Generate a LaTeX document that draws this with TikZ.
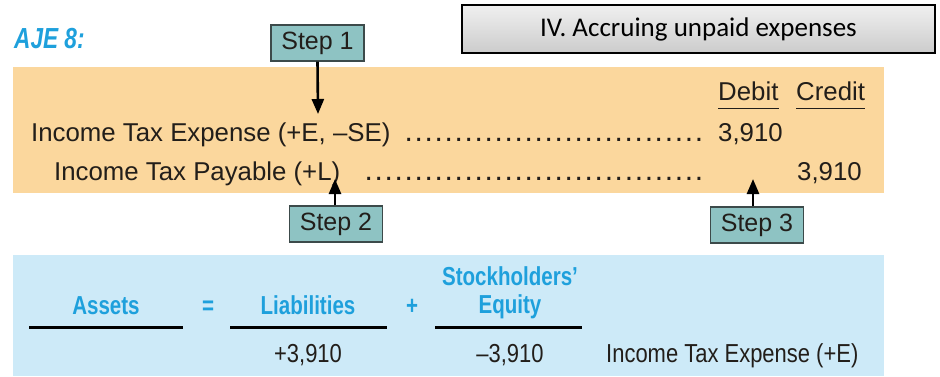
\documentclass[tikz,border=0pt]{standalone}
\usepackage{fontspec}
\setmainfont{Liberation Sans}
\newfontfamily\calfont{Carlito}
\newfontfamily\condfont[FakeStretch=0.845]{Liberation Sans}
\newfontfamily\condbold[FakeStretch=0.79]{Liberation Sans}
\newfontfamily\ajefont[FakeStretch=0.78]{Liberation Sans}
\usetikzlibrary{arrows.meta}
\definecolor{orangebg}{HTML}{FBD79D}
\definecolor{bluebg}{HTML}{CDEAF8}
\definecolor{stepfill}{HTML}{8EC3C3}
\definecolor{stepline}{HTML}{3C4A4A}
\definecolor{acctblue}{HTML}{1EA0DC}
\definecolor{inkdark}{HTML}{221E1A}
\newcommand{\leaderdots}[1]{\hbox to #1pt{\fontsize{30}{30}\selectfont\leaders\hbox to 10pt{\hss.\hss}\hfill}}

\begin{document}
\begin{tikzpicture}[x=1pt,y=-1pt]

		\useasboundingbox (0,0) rectangle (940,376);
		\tikzset{stepbox/.style={draw=stepline, fill=stepfill, line width=1.2pt, minimum width=93pt, minimum height=36pt, inner sep=0pt, text=inkdark, font=\fontsize{25}{30}\selectfont},
			steparrow/.style={line width=2.6pt, -{Triangle[width=12pt,length=15pt]}},
			entry/.style={anchor=base west, inner sep=0pt, text=inkdark, font=\fontsize{25.8}{30}\selectfont},
			acct/.style={anchor=base, inner sep=0pt, text=acctblue, font=\condbold\bfseries\fontsize{26}{30}\selectfont},
			amount/.style={anchor=base, inner sep=0pt, text=inkdark, font=\condfont\fontsize{26}{30}\selectfont},
			eqrule/.style={line width=3pt},
			ledgerrule/.style={line width=1.6pt, inkdark}}

		\fill[orangebg] (13,67) rectangle (884,193);
		\fill[bluebg] (13,255) rectangle (884,376);

		\node[draw, line width=1.2pt, top color=gray!12, bottom color=gray!40, minimum width=473pt, minimum height=48pt, font=\calfont\fontsize{27}{32}\selectfont] (title) at (698.5,29) {IV. Accruing unpaid expenses};
		\node[anchor=base west, inner sep=0pt, text=acctblue, font=\ajefont\bfseries\itshape\fontsize{29}{32}\selectfont] (aje) at (14,48) {AJE 8:};

		\node[stepbox] (step1) at (317.5,43) {Step 1};
		\node[stepbox] (step2) at (336,224) {Step 2};
		\node[stepbox] (step3) at (757,225) {Step 3};

		\node[entry] (debit) at (718,100) {Debit};
		\node[entry] (credit) at (796,100) {Credit};
		\draw[ledgerrule] ([yshift=-8pt]debit.south west) -- ([yshift=-8pt]debit.south east);
		\draw[ledgerrule] ([yshift=-8pt]credit.south west) -- ([yshift=-8pt]credit.south east);

		\node[entry] (expense) at (31,141) {Income Tax Expense (+E, –SE)};
		\node[entry] (payable) at (54,180) {Income Tax Payable (+L)};
		\node[entry, anchor=base east] (dots1) at (704,141) {\leaderdots{300}};
		\node[entry, anchor=base east] (dots2) at (704,180) {\leaderdots{340}};
		\node[entry] (dr) at (718,141) {3,910};
		\node[entry] (cr) at (797,180) {3,910};

		\coordinate (tip1) at (318,114);
		\coordinate (tip2) at (335,179);
		\coordinate (tip3) at (753,179);
		\draw[steparrow] (step1.south) -- (tip1);
		\draw[steparrow] (step2.north -| tip2) -- (tip2);
		\draw[steparrow] (step3.north -| tip3) -- (tip3);

		\node[acct] (assets) at (106,314) {Assets};
		\node[acct] (eq) at (208,314) {=};
		\node[acct] (liab) at (308,314) {Liabilities};
		\node[acct] (plus) at (412,314) {+};
		\node[acct] (stock) at (510,285) {Stockholders’};
		\node[acct] (equity) at (510,313) {Equity};
		\draw[eqrule] (29,327) -- (183,327);
		\draw[eqrule] (230,327) -- (387,327);
		\draw[eqrule] (435,327) -- (582,327);

		\node[amount] (liabamt) at (308,362) {+3,910};
		\node[amount] (eqamt) at (510,362) {–3,910};
		\node[amount, anchor=base west] (note) at (606,362) {Income Tax Expense (+E)};

\end{tikzpicture}
\end{document}
